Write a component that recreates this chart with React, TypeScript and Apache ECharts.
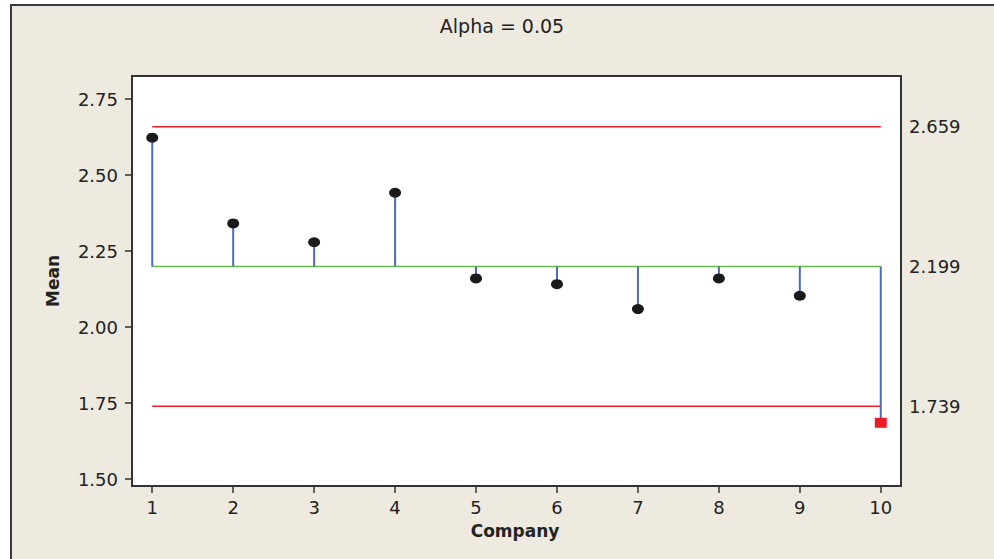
import React, { useEffect, useRef } from "react";
import * as echarts from "echarts";

const companies = [1, 2, 3, 4, 5, 6, 7, 8, 9, 10];
const means = [2.623, 2.341, 2.279, 2.442, 2.16, 2.141, 2.059, 2.16, 2.103, 1.685];
const CENTER = 2.199;
const UDL = 2.659;
const LDL = 1.739;
const yTicks = [1.5, 1.75, 2.0, 2.25, 2.5, 2.75];
const limitTicks = [LDL, CENTER, UDL];
const titleText = "Alpha = 0.05";
const xName = "Company";
const yName = "Mean";

const FONT = "DejaVu Sans, Verdana, sans-serif";
const TXT = "#222222";
const AX = "#333333";

export default function App() {
  const ref = useRef<HTMLDivElement>(null);

  useEffect(() => {
    if (!ref.current) return;
    const chart = echarts.init(ref.current, null, { renderer: "svg" });
    const yMin = 1.477;
    const yMax = 2.826;

    const pts = companies.map((c, i) => {
      const v = means[i];
      const out = v < LDL || v > UDL;
      return out
        ? { value: [c, v], symbol: "rect", symbolSize: [12, 10], itemStyle: { color: "#ed1c24", opacity: 1 } }
        : { value: [c, v], symbol: "circle", symbolSize: [12, 10], itemStyle: { color: "#1a1a1a", opacity: 1 } };
    });

    chart.setOption({
      animation: false,
      backgroundColor: "#ffffff",
      textStyle: { fontFamily: FONT },
      graphic: [
        {
          type: "rect",
          z: -100,
          silent: true,
          shape: { x: 11, y: 5, width: 1100, height: 700 },
          style: { fill: "#eeeae0", stroke: "#3a3a3a", lineWidth: 2 },
        },
        {
          type: "text",
          x: 502,
          y: 26,
          style: {
            text: titleText,
            fontSize: 19,
            fontFamily: FONT,
            fill: TXT,
            align: "center",
            verticalAlign: "middle",
          },
        },
        {
          type: "text",
          x: 515,
          y: 531,
          style: {
            text: xName,
            fontSize: 17,
            fontWeight: "bold",
            fontFamily: FONT,
            fill: TXT,
            align: "center",
            verticalAlign: "middle",
          },
        },
        {
          type: "text",
          x: 53,
          y: 281,
          rotation: Math.PI / 2,
          style: {
            text: yName,
            fontSize: 17,
            fontWeight: "bold",
            fontFamily: FONT,
            fill: TXT,
            align: "center",
            verticalAlign: "middle",
          },
        },
      ],
      grid: {
        left: 132,
        right: 93,
        top: 76,
        bottom: 73,
        show: true,
        backgroundColor: "#ffffff",
        borderColor: AX,
        borderWidth: 2,
        outerBoundsMode: "none",
      },
      xAxis: {
        type: "value",
        min: 0.75,
        max: 10.25,
        axisLine: { show: false },
        splitLine: { show: false },
        axisTick: {
          show: true,
          length: 7,
          customValues: companies,
          lineStyle: { color: AX, width: 1.5 },
        },
        axisLabel: {
          customValues: companies,
          formatter: (v: number) => String(v),
          fontSize: 18,
          fontFamily: FONT,
          color: TXT,
          margin: 12,
        },
      },
      yAxis: [
        {
          type: "value",
          min: yMin,
          max: yMax,
          axisLine: { show: false },
          splitLine: { show: false },
          axisTick: {
            show: true,
            length: 7,
            customValues: yTicks,
            lineStyle: { color: AX, width: 1.5 },
          },
          axisLabel: {
            customValues: yTicks,
            formatter: (v: number) => v.toFixed(2),
            fontSize: 18,
            fontFamily: FONT,
            color: TXT,
            margin: 14,
          },
        },
        {
          type: "value",
          position: "right",
          min: yMin,
          max: yMax,
          alignTicks: false,
          axisLine: { show: false },
          splitLine: { show: false },
          axisTick: { show: false },
          axisLabel: {
            customValues: limitTicks,
            formatter: (v: number) => v.toFixed(3),
            fontSize: 18,
            fontFamily: FONT,
            color: TXT,
            margin: 8,
          },
        },
      ],
      series: [
        {
          type: "line",
          data: [[companies[0], UDL], [companies[companies.length - 1], UDL]],
          symbol: "none",
          lineStyle: { color: "#ee1c24", width: 1.5 },
          z: 2,
        },
        {
          type: "line",
          data: [[companies[0], LDL], [companies[companies.length - 1], LDL]],
          symbol: "none",
          lineStyle: { color: "#ee1c24", width: 1.5 },
          z: 2,
        },
        {
          type: "line",
          data: [[companies[0], CENTER], [companies[companies.length - 1], CENTER]],
          symbol: "none",
          lineStyle: { color: "#66bb4a", width: 1.5 },
          z: 2,
        },
        {
          type: "custom",
          data: companies.map((c, i) => [c, means[i]]),
          z: 3,
          renderItem: (params: any, api: any) => {
            const x = api.value(0);
            const y = api.value(1);
            const p1 = api.coord([x, CENTER]);
            const p2 = api.coord([x, y]);
            return {
              type: "line",
              shape: { x1: p1[0], y1: p1[1], x2: p2[0], y2: p2[1] },
              style: { stroke: "#4f6bb5", lineWidth: 2 },
            };
          },
        },
        {
          type: "scatter",
          data: pts,
          z: 4,
        },
      ],
    });

    return () => chart.dispose();
  }, []);

  return (
    <div
      ref={ref}
      style={{ position: "fixed", left: 0, top: 0, width: 994, height: 559 }}
    />
  );
}
